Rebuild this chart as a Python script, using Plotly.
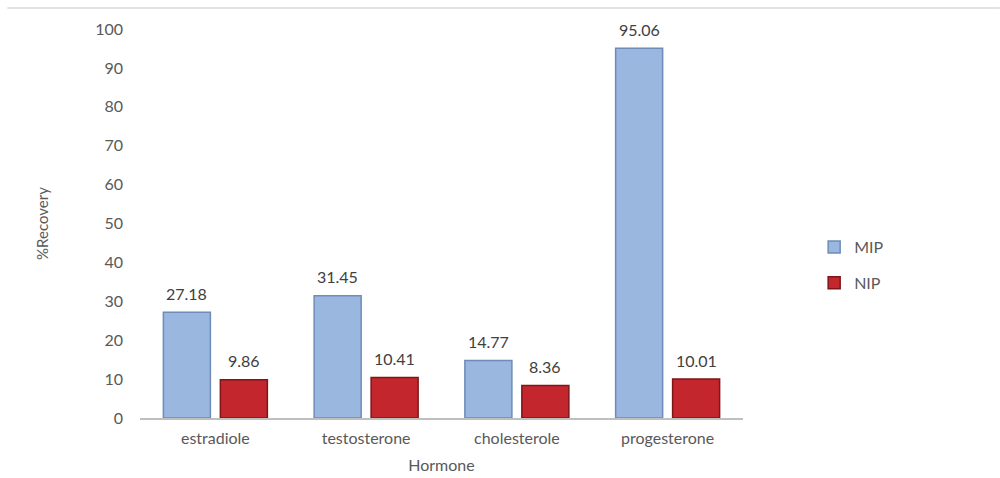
import plotly.graph_objects as go

hormones = ["estradiole", "testosterone", "cholesterole", "progesterone"]
mip_recovery = [27.18, 31.45, 14.77, 95.06]
nip_recovery = [9.86, 10.41, 8.36, 10.01]
y_ticks = [0, 10, 20, 30, 40, 50, 60, 70, 80, 90, 100]

FONT = "Lato, 'Open Sans', sans-serif"
GREY = "#595959"
LABEL = "#404040"

W, H = 1000, 478
M = dict(l=140, r=257, t=29, b=60)
BARGAP, GROUPGAP = 0.244, 0.175

fig = go.Figure()
fig.add_trace(go.Bar(
    name="MIP", x=hormones, y=mip_recovery,
    marker=dict(color="#99b7df", line=dict(color="#6d8cb8", width=1.5)),
    legendgroup="a",
))
fig.add_trace(go.Bar(
    name="NIP", x=hormones, y=nip_recovery,
    marker=dict(color="#c3272d", line=dict(color="#7e1519", width=1.5)),
    legendgroup="b",
))

# value labels sit a little above each bar, centred on it
cat_px = (W - M["l"] - M["r"]) / len(hormones)
slot_px = (1 - BARGAP) * cat_px / 2
for series, shift in ((mip_recovery, -slot_px / 2), (nip_recovery, slot_px / 2)):
    for cat, val in zip(hormones, series):
        fig.add_annotation(
            x=cat, y=val, text=f"{val:.2f}", showarrow=False,
            xshift=shift, yshift=19, yanchor="middle",
            font=dict(size=16, color=LABEL, family=FONT),
        )

# thin rule along the top edge of the page
fig.add_shape(type="line", xref="paper", yref="paper",
              x0=-0.22, x1=1.426, y0=1.054, y1=1.054,
              line=dict(color="#d9d9d9", width=1.5))

fig.update_layout(
    width=W, height=H, margin=M,
    paper_bgcolor="white", plot_bgcolor="white",
    font=dict(family=FONT, color=GREY, size=16),
    barmode="group", bargap=BARGAP, bargroupgap=GROUPGAP,
    showlegend=True,
    legend=dict(x=1.118, y=0.393, xanchor="left", yanchor="middle",
                font=dict(size=16, color=GREY, family=FONT),
                tracegroupgap=12, itemwidth=30,
                bgcolor="rgba(0,0,0,0)"),
    xaxis=dict(
        showline=True, linecolor="#bfbfbf", linewidth=1.5,
        ticks="", showgrid=False, ticklabelstandoff=5, automargin=False,
        tickfont=dict(size=16, color=GREY),
        title=dict(text="Hormone", font=dict(size=16, color=GREY), standoff=14),
    ),
    yaxis=dict(
        range=[0, 100], tickvals=y_ticks, showgrid=False, zeroline=False,
        showline=False, ticks="", ticklabelstandoff=16, automargin=False,
        tickfont=dict(size=16, color=GREY),
        title=dict(text="%Recovery", font=dict(size=15, color=GREY), standoff=42),
    ),
)

fig.write_html("out.html")
